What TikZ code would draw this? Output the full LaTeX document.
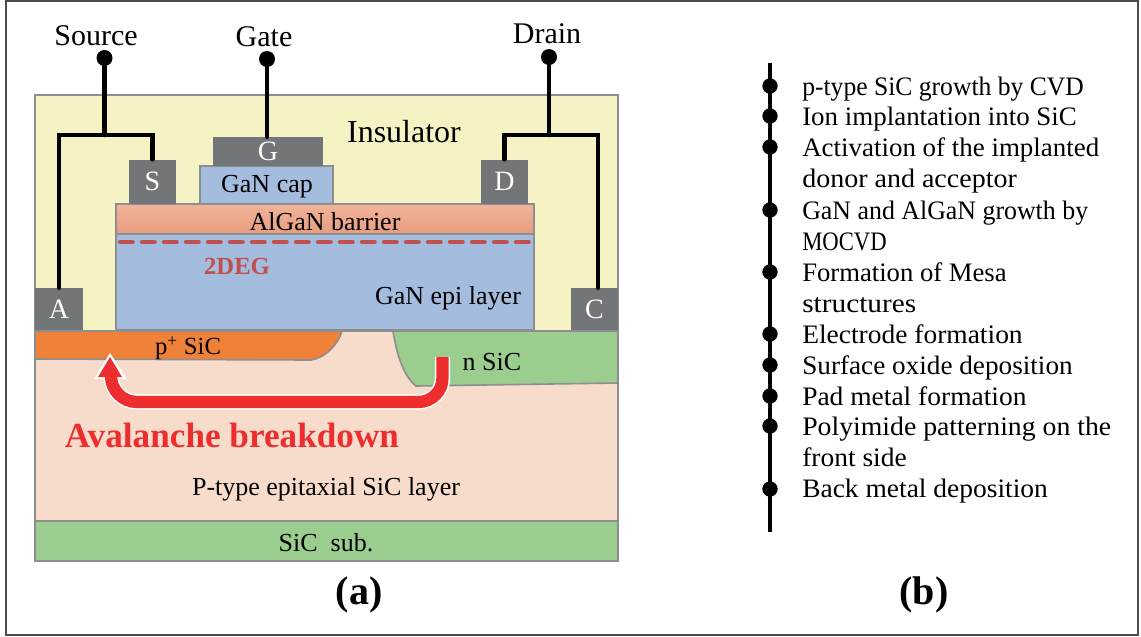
\documentclass[tikz,border=0pt]{standalone}
\usepackage{fontspec}
\setmainfont{Liberation Serif}
\usetikzlibrary{calc}
\definecolor{ins}{HTML}{F5F3C4}
\definecolor{bord}{HTML}{8C8E90}
\definecolor{padc}{HTML}{737679}
\definecolor{epi}{HTML}{A4BCDD}
\definecolor{pink}{HTML}{F7DCCB}
\definecolor{grn}{HTML}{9BCD8F}
\definecolor{org}{HTML}{F08138}
\definecolor{deg}{HTML}{C0504D}
\definecolor{redar}{HTML}{EE2E2E}
\definecolor{algt}{HTML}{F2B49A}
\definecolor{algb}{HTML}{E89C7E}
\tikzset{
  layer/.style={draw=bord,line width=1.3pt},
  pad/.style={fill=padc,draw=none,inner sep=0pt,text=white,font=\fontsize{21}{22}\selectfont},
  wire/.style={line width=3.4pt,line cap=round,line join=miter},
  dotn/.style={circle,fill=black,inner sep=0pt,minimum size=12pt},
  lbl/.style={font=\fontsize{19.5}{22}\selectfont,inner sep=0pt},
  term/.style={font=\fontsize{22.5}{24}\selectfont,inner sep=0pt},
  step item/.style={anchor=base west,font=\fontsize{20}{22}\selectfont,inner sep=0pt},
  sub/.style={font=\bfseries\fontsize{30}{32}\selectfont,inner sep=0pt}
}
\begin{document}
\begin{tikzpicture}[x=0.75pt,y=-0.75pt]
\useasboundingbox (0,0) rectangle (1141,636);
\fill[white] (0,0) rectangle (1141,636);
\draw[black!70,line width=0.8pt] (6,1) rectangle (1138,635);
% layers
\fill[ins] (35,95) rectangle (618,331);
\draw[bord,line width=1.3pt] (35,331) -- (35,95) -- (618,95) -- (618,331);
\draw[layer,fill=pink] (35,331) rectangle (618,521);
\draw[layer,fill=grn] (35,521) rectangle (618,561);
\draw[draw=bord,line width=1.2pt,fill=org] (35,331) -- (342,331) .. controls (338,345) and (325,358) .. (311,360) -- (35,359) -- cycle;
\draw[draw=bord,line width=1.2pt,fill=grn] (393,331) .. controls (396,350) and (402,375) .. (416,386) -- (618,383) -- (618,331) -- cycle;
\draw[layer,fill=epi] (116,234) rectangle (534,330);
\shade[top color=algt,bottom color=algb,draw=none] (116,204) rectangle (534,234);
\draw[bord,line width=1.3pt] (116,204) rectangle (534,234);
\draw[layer,fill=epi] (200,166) rectangle (333,204);
% pads
\node[pad,minimum width=82.5pt,minimum height=21.75pt] (G) at (268,151.5) {G};
\node[pad,minimum width=35.25pt,minimum height=33pt] (S) at (152.5,181.5) {S};
\node[pad,minimum width=35.25pt,minimum height=33pt] (D) at (504.5,181.5) {D};
\node[pad,minimum width=36pt,minimum height=31.5pt] (A) at (59,309) {A};
\node[pad,minimum width=35.25pt,minimum height=31.5pt] (C) at (594.5,309) {C};
% terminals and wires
\node[dotn] (sd) at (104.5,58) {};
\node[dotn] (gd) at (267,59) {};
\node[dotn] (dd) at (549,57) {};
\coordinate (sj) at (104.5,135);
\coordinate (dj) at (549,135);
\coordinate (cw) at ($(C.north)+(3.5,0)$);
\draw[wire] (sd) -- (sj);
\draw[wire] (gd) -- (G.north -| gd);
\draw[wire] (dd) -- (dj);
\draw[wire] (A.north) -- (sj -| A.north) -- (sj -| S.north) -- (S.north);
\draw[wire] (D.north) -- (dj -| D.north) -- (dj -| cw) -- (cw);
\node[term] (tsrc) at (96,36) {Source};
\node[term] (tgate) at (264,37) {Gate};
\node[term] (tdrain) at (547,34) {Drain};
% labels
\node[font=\fontsize{24}{26}\selectfont,inner sep=0pt] (ins) at (404,132) {Insulator};
\node[lbl] (cap) at (267,187) {GaN cap};
\node[lbl] (alg) at (325,222) {AlGaN barrier};
\node[lbl] (ge) at (448,298) {GaN epi layer};
\node[font=\bfseries\fontsize{18.5}{20}\selectfont,text=deg,inner sep=0pt] (deg2) at (237,266) {2DEG};
\draw[deg,line width=3.2pt,line cap=round,dash pattern=on 9.5pt off 7pt] (120,242) -- (536,242);
\node[font=\fontsize{18.5}{22}\selectfont,inner sep=0pt] (ps) at (188,348) {p\textsuperscript{+} SiC};
\node[lbl] (ns) at (492,362) {n SiC};
\node[lbl] (ep) at (326,489) {P-type epitaxial SiC layer};
\node[lbl] (sb) at (326,543) {SiC\ \ sub.};
% arrow
\coordinate (a1) at (442.5,357);
\coordinate (a2) at (111,378);
\draw[white,line width=11.5pt,line cap=butt] (a1) -- ++(0,21) arc (0:90:24) -- (137,402) arc (90:180:26);
\fill[white] (110,353) -- (127,379) -- (94,379) -- cycle;
\draw[redar,line width=9.2pt,line cap=butt] (a1) -- ++(0,21) arc (0:90:24) -- (137,402) arc (90:180:26);
\fill[redar] (110,357) -- (122,377) -- (98,377) -- cycle;
\node[font=\bfseries\fontsize{26.4}{28}\selectfont,text=redar,inner sep=0pt] (av) at (232,435) {Avalanche breakdown};
\node[sub] (la) at (359,595) {(a)};
\node[sub] (lb) at (924,595) {(b)};
% right panel
\coordinate (ltop) at (770,63);
\coordinate (lbot) at (770,532);
\draw[black,line width=2.3pt] (ltop) -- (lbot);
\foreach \n/\y in {1/86,2/116,3/147,4/210,5/272,6/334,7/365,8/396,9/426,10/489}
  \node[circle,fill=black,inner sep=0pt,minimum size=11.5pt] (p\n) at (770,\y) {};
\foreach \t/\y/\s in {p-type SiC growth by CVD/95/.96,Ion implantation into SiC/125/1.01,Activation of the implanted/156/1.01,donor and acceptor/187/1.05,GaN and AlGaN growth by/219/.97,MOCVD/250/.85,Formation of Mesa/281/1.0,structures/312/1.10,Electrode formation/343/1.03,Surface oxide deposition/374/1.02,Pad metal formation/405/1.03,Polyimide patterning on the/435/1.04,front side/466/1.03,Back metal deposition/497/1.03}
  \node[step item] at (802,\y) {\scalebox{\s}[1]{\t}};
\end{tikzpicture}
\end{document}
